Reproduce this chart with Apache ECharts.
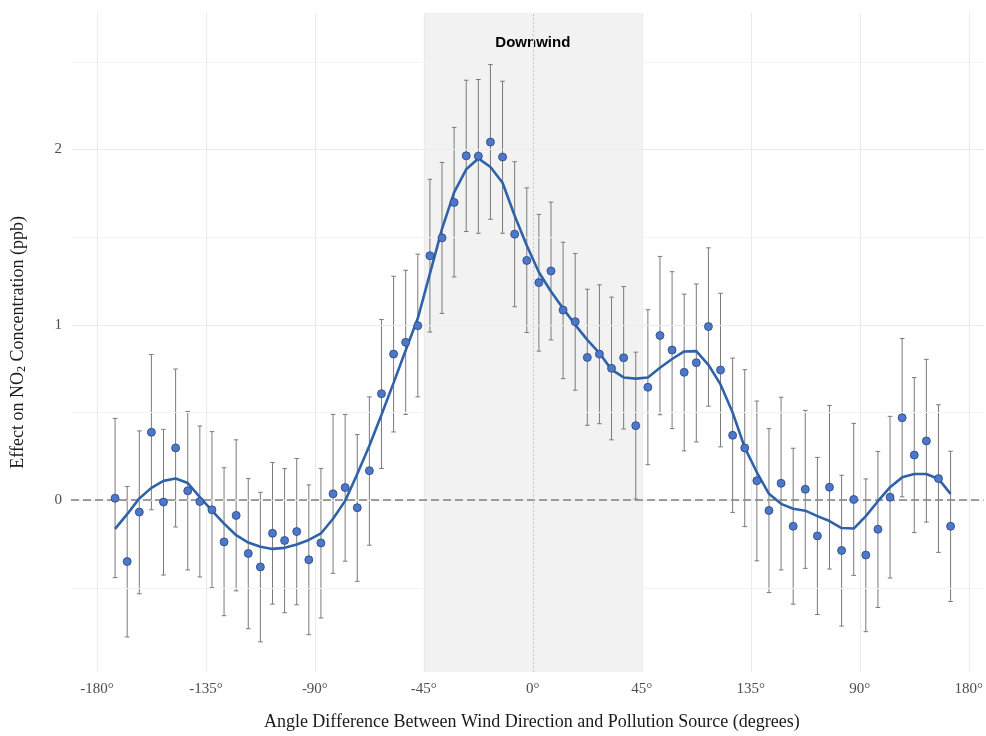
<!DOCTYPE html>
<html><head><meta charset="utf-8">
<script src="https://cdn.jsdelivr.net/npm/echarts@6/dist/echarts.min.js"></script>
<style>html,body{margin:0;padding:0;background:#fff}#c{width:986px;height:736px}</style>
</head><body><div id="c"></div>
<script>
const angles = [-172.5,-167.5,-162.5,-157.5,-152.5,-147.5,-142.5,-137.5,-132.5,-127.5,-122.5,-117.5,-112.5,-107.5,-102.5,-97.5,-92.5,-87.5,-82.5,-77.5,-72.5,-67.5,-62.5,-57.5,-52.5,-47.5,-42.5,-37.5,-32.5,-27.5,-22.5,-17.5,-12.5,-7.5,-2.5,2.5,7.5,12.5,17.5,22.5,27.5,32.5,37.5,42.5,47.5,52.5,57.5,62.5,67.5,72.5,77.5,82.5,87.5,92.5,97.5,102.5,107.5,112.5,117.5,122.5,127.5,132.5,137.5,142.5,147.5,152.5,157.5,162.5,167.5,172.5];
const effect = [0.011,-0.35,-0.068,0.387,-0.011,0.298,0.053,-0.008,-0.055,-0.238,-0.087,-0.304,-0.381,-0.189,-0.23,-0.179,-0.34,-0.244,0.036,0.072,-0.043,0.168,0.607,0.833,0.9,0.995,1.394,1.496,1.698,1.964,1.962,2.042,1.957,1.517,1.367,1.241,1.307,1.084,1.018,0.814,0.833,0.752,0.812,0.425,0.644,0.939,0.856,0.729,0.784,0.99,0.742,0.37,0.298,0.111,-0.059,0.096,-0.149,0.062,-0.204,0.074,-0.287,0.004,-0.313,-0.166,0.017,0.47,0.257,0.338,0.123,-0.149];
const upper = [0.466,0.078,0.395,0.831,0.404,0.748,0.506,0.423,0.391,0.185,0.344,0.123,0.045,0.215,0.18,0.238,0.087,0.181,0.489,0.489,0.374,0.589,1.03,1.277,1.311,1.403,1.83,1.926,2.126,2.395,2.399,2.484,2.389,1.93,1.781,1.63,1.7,1.471,1.407,1.203,1.228,1.158,1.218,0.844,1.086,1.39,1.303,1.175,1.233,1.439,1.18,0.81,0.744,0.565,0.408,0.587,0.296,0.512,0.244,0.54,0.142,0.438,0.121,0.278,0.478,0.922,0.699,0.803,0.544,0.279];
const lower = [-0.442,-0.78,-0.534,-0.055,-0.427,-0.153,-0.398,-0.438,-0.499,-0.659,-0.517,-0.733,-0.808,-0.593,-0.642,-0.597,-0.767,-0.672,-0.417,-0.348,-0.463,-0.257,0.181,0.389,0.489,0.589,0.959,1.065,1.273,1.532,1.522,1.602,1.522,1.103,0.956,0.85,0.914,0.693,0.627,0.427,0.436,0.344,0.406,0.006,0.202,0.487,0.408,0.281,0.332,0.536,0.304,-0.07,-0.151,-0.346,-0.527,-0.398,-0.593,-0.389,-0.652,-0.393,-0.718,-0.429,-0.75,-0.612,-0.444,0.019,-0.185,-0.125,-0.298,-0.578];
const smooth = [-0.164,-0.08,0.01,0.07,0.11,0.123,0.098,0.017,-0.059,-0.134,-0.2,-0.242,-0.266,-0.278,-0.272,-0.253,-0.227,-0.19,-0.106,-0.004,0.149,0.31,0.487,0.669,0.855,1.037,1.292,1.547,1.755,1.887,1.949,1.90,1.81,1.622,1.452,1.30,1.19,1.093,1.0,0.914,0.839,0.744,0.70,0.693,0.70,0.755,0.805,0.848,0.85,0.772,0.66,0.5,0.30,0.159,0.036,-0.021,-0.049,-0.06,-0.091,-0.119,-0.159,-0.162,-0.091,-0.006,0.074,0.13,0.149,0.149,0.121,0.036];
const xTicks = [-180,-135,-90,-45,0,45,90,135,180];
const xTickLabels = ['-180°','-135°','-90°','-45°','0°','45°','135°','90°','180°'];
const yTicks = [0,1,2];
const yMinor = [-0.5,0.5,1.5,2.5];
const downwind = [-45,45];

const serif = '"Liberation Serif","Times New Roman",serif';
const chart = echarts.init(document.getElementById('c'));
chart.setOption({
  animation:false,
  backgroundColor:'#ffffff',
  grid:{left:71,right:0,top:12.7,bottom:60},
  xAxis:{type:'value',min:-190.7,max:186.1,
    axisLine:{show:false},axisTick:{show:false},splitLine:{show:false},
    axisLabel:{customValues:xTicks,margin:10,fontFamily:serif,fontSize:15,color:'#4d4d4d',
      formatter:function(v){const i=xTicks.indexOf(v);return i>=0?xTickLabels[i]:'';}},
    name:'Angle Difference Between Wind Direction and Pollution Source (degrees)',
    nameLocation:'middle',nameGap:41,
    nameTextStyle:{fontFamily:serif,fontSize:18,color:'#1a1a1a',padding:[0,0,0,9]}},
  yAxis:{type:'value',min:-0.98,max:2.78,
    axisLine:{show:false},axisTick:{show:false},splitLine:{show:false},
    axisLabel:{customValues:yTicks,margin:9,fontFamily:serif,fontSize:15,color:'#4d4d4d'},
    name:'{a|Effect on NO}{s|2}{a| Concentration (ppb)}',
    nameLocation:'middle',nameGap:43,
    nameTextStyle:{rich:{a:{fontFamily:serif,fontSize:18,color:'#1a1a1a'},
      s:{fontFamily:serif,fontSize:12,color:'#1a1a1a',verticalAlign:'bottom',padding:[7,0,0,0]}}}},
  series:[
    {type:'line',data:[],z:1,silent:true,
      markLine:{silent:true,symbol:['none','none'],label:{show:false},animation:false,
        data:[].concat(
          yMinor.map(v=>({yAxis:v,lineStyle:{color:'#f4f4f4',width:1,type:'solid'}})),
          yTicks.map(v=>({yAxis:v,lineStyle:{color:'#ebebeb',width:1.2,type:'solid'}})),
          xTicks.map(v=>({xAxis:v,lineStyle:{color:'#ebebeb',width:1.2,type:'solid'}}))
        )}},
    {type:'line',data:[],z:2,silent:true,
      markArea:{silent:true,itemStyle:{color:'#f2f2f2'},
        label:{show:true,position:'insideTop',distance:23,formatter:'Downwind',
          fontFamily:'"Liberation Sans",Arial,sans-serif',fontWeight:'bold',fontSize:15,color:'#000'},
        data:[[{xAxis:downwind[0]},{xAxis:downwind[1]}]]}},
    {type:'line',data:[],z:3,silent:true,
      markLine:{silent:true,symbol:['none','none'],label:{show:false},animation:false,
        data:[
          {yAxis:0,lineStyle:{color:'#808080',width:1.6,type:[8,4]}},
          {xAxis:0,lineStyle:{color:'#c4c4c4',width:1,type:[1.5,2.5]}}
        ]}},
    {type:'custom',z:4,silent:true,
      data:angles.map((a,i)=>[a,lower[i],upper[i]]),
      encode:{x:0,y:[1,2]},
      renderItem:function(params,api){
        const x=api.value(0);
        const p1=api.coord([x,api.value(1)]), p2=api.coord([x,api.value(2)]);
        const w=2.3, st={stroke:'#7a7a7a',lineWidth:1};
        return {type:'group',children:[
          {type:'line',shape:{x1:p1[0],y1:p1[1],x2:p2[0],y2:p2[1]},style:st},
          {type:'line',shape:{x1:p1[0]-w,y1:p1[1],x2:p1[0]+w,y2:p1[1]},style:st},
          {type:'line',shape:{x1:p2[0]-w,y1:p2[1],x2:p2[0]+w,y2:p2[1]},style:st}
        ]};
      }},
    {type:'line',z:5,silent:true,showSymbol:false,smooth:false,
      data:angles.map((a,i)=>[a,smooth[i]]),
      lineStyle:{color:'#2f62a8',width:2.6}},
    {type:'scatter',z:6,silent:true,symbolSize:8,
      data:angles.map((a,i)=>[a,effect[i]]),
      itemStyle:{color:'#4c78cc',borderColor:'#2a4478',borderWidth:0.8,opacity:1}}
  ]
});
</script></body></html>
